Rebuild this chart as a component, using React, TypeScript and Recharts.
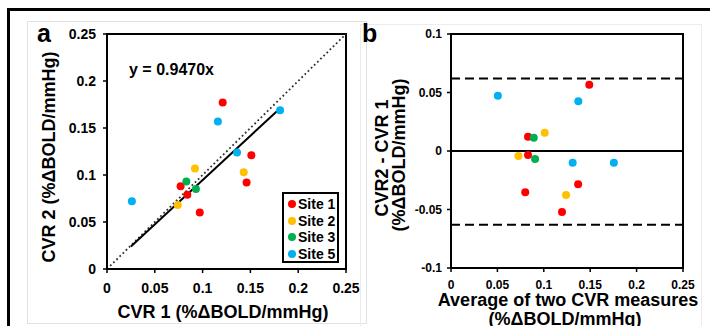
import React from 'react'
import {
  ScatterChart, Scatter, XAxis, YAxis, ReferenceLine, ReferenceArea, Legend,
} from 'recharts'

type Pt = { x: number; y: number }

const FONT = '"Liberation Sans", Arial, sans-serif'

const siteNames = ['Site 1', 'Site 2', 'Site 3', 'Site 5']
const siteColors = ['#ff0000', '#ffc000', '#00b050', '#00b0f0']

// panel a: CVR 1 vs CVR 2
const site1A: Pt[] = [
  { x: 0.121, y: 0.177 }, { x: 0.151, y: 0.121 }, { x: 0.146, y: 0.092 },
  { x: 0.077, y: 0.088 }, { x: 0.084, y: 0.079 }, { x: 0.097, y: 0.060 },
]
const site2A: Pt[] = [{ x: 0.092, y: 0.107 }, { x: 0.143, y: 0.103 }, { x: 0.074, y: 0.068 }]
const site3A: Pt[] = [{ x: 0.083, y: 0.093 }, { x: 0.093, y: 0.085 }]
const site5A: Pt[] = [
  { x: 0.181, y: 0.169 }, { x: 0.116, y: 0.157 }, { x: 0.136, y: 0.124 }, { x: 0.026, y: 0.072 },
]
const fitLine: Pt[] = [{ x: 0.025, y: 0.024 }, { x: 0.18, y: 0.17 }]
const identityLine: Pt[] = [{ x: 0, y: 0 }, { x: 0.25, y: 0.25 }]
const ticksA = [0, 0.05, 0.1, 0.15, 0.2, 0.25]

// panel b: Bland-Altman
const site1B: Pt[] = [
  { x: 0.149, y: 0.0566 }, { x: 0.083, y: 0.0121 }, { x: 0.083, y: -0.0034 },
  { x: 0.080, y: -0.0352 }, { x: 0.137, y: -0.0285 }, { x: 0.1196, y: -0.0521 },
]
const site2B: Pt[] = [{ x: 0.101, y: 0.0155 }, { x: 0.0727, y: -0.0042 }, { x: 0.124, y: -0.0375 }]
const site3B: Pt[] = [{ x: 0.0892, y: 0.0113 }, { x: 0.0906, y: -0.0068 }]
const site5B: Pt[] = [
  { x: 0.0505, y: 0.0473 }, { x: 0.1372, y: 0.0425 }, { x: 0.1311, y: -0.0101 }, { x: 0.1755, y: -0.0101 },
]
const limitsB = [0.062, -0.063]
const ticksBx = [0, 0.05, 0.1, 0.15, 0.2, 0.25]
const ticksBy = [-0.1, -0.05, 0, 0.05, 0.1]

const seriesA = [site1A, site2A, site3A, site5A]
const seriesB = [site1B, site2B, site3B, site5B]

const dot = (color: string) => (props: any) => (
  <circle cx={props.cx} cy={props.cy} r={4} fill={color} />
)

const LegendBox = (props: any) => (
  <div style={{ border: '2px solid #000', background: '#fff', padding: '2px 0 0 4px', width: 57, height: 71, boxSizing: 'border-box' }}>
    {(props.payload || []).map((e: any) => (
      <div key={e.value} style={{ display: 'flex', alignItems: 'center', height: 16.5, whiteSpace: 'nowrap', fontSize: 14, fontWeight: 700, fontFamily: FONT, color: '#000', lineHeight: '16px' }}>
        <span style={{ flex: 'none', width: 8, height: 8, borderRadius: 4, background: e.color, marginRight: 2 }} />
        {e.value}
      </div>
    ))}
  </div>
)

export default function App() {
  const tickA = { fill: '#000', fontSize: 14, fontWeight: 700, fontFamily: FONT }
  const tickB = { fill: '#000', fontSize: 12, fontWeight: 700, fontFamily: FONT }
  const axisLine = { stroke: '#000', strokeWidth: 2 }
  const tickLine = { stroke: '#000', strokeWidth: 1.5 }
  const lbl = { fontFamily: FONT, fontWeight: 700, fontSize: 18, fill: '#000' } as const

  return (
    <div style={{ position: 'absolute', left: 0, top: 0, width: 710, height: 326, background: '#fff', overflow: 'hidden' }}>
      <div style={{ position: 'absolute', left: 7, top: 8, width: 720, height: 340, borderTop: '3px solid #000', borderLeft: '3px solid #000' }} />
      <div style={{ position: 'absolute', left: 27, top: 21, width: 338, height: 301, border: '1px solid #e2e2e2' }} />
      <div style={{ position: 'absolute', left: 360, top: 24, width: 340, height: 320, border: '1px solid #ececec' }} />

      <div style={{ position: 'absolute', left: 0, top: 0 }}>
        <ScatterChart width={360} height={326} margin={{ top: 34, right: 14, bottom: 27, left: 47 }}>
          <XAxis type="number" dataKey="x" domain={[0, 0.25]} ticks={ticksA} height={30}
            tick={tickA} axisLine={axisLine} tickLine={tickLine} tickSize={4} tickMargin={10} />
          <YAxis type="number" dataKey="y" domain={[0, 0.25]} ticks={ticksA} width={60}
            tick={tickA} axisLine={axisLine} tickLine={tickLine} tickSize={4} tickMargin={7} />
          <ReferenceArea x1={0} x2={0.25} y1={0} y2={0.25} fill="#fff" fillOpacity={0} stroke="#000" strokeWidth={2} />
          <ReferenceLine segment={identityLine} stroke="#333" strokeWidth={1.8} strokeDasharray="1.8 2.6" />
          <Scatter data={fitLine} line={{ stroke: '#000', strokeWidth: 2 }} shape={() => <g />}
            legendType="none" isAnimationActive={false} />
          {seriesA.map((d, i) => (
            <Scatter key={i} name={siteNames[i]} data={d} fill={siteColors[i]} shape={dot(siteColors[i])} isAnimationActive={false} />
          ))}
          <Legend layout="vertical" align="center" verticalAlign="middle" content={LegendBox}
            wrapperStyle={{ left: 282, top: 192, width: 57, height: 71 }} />
        </ScatterChart>
      </div>

      <div style={{ position: 'absolute', left: 350, top: 0 }}>
        <ScatterChart width={360} height={326} margin={{ top: 34, right: 27, bottom: 28, left: 41 }}>
          <XAxis type="number" dataKey="x" domain={[0, 0.25]} ticks={ticksBx} height={30}
            tick={tickB} axisLine={axisLine} tickLine={tickLine} tickSize={4} tickMargin={8} />
          <YAxis type="number" dataKey="y" domain={[-0.1, 0.1]} ticks={ticksBy} width={60}
            tick={tickB} axisLine={axisLine} tickLine={tickLine} tickSize={4} tickMargin={5} />
          <ReferenceArea x1={0} x2={0.25} y1={-0.1} y2={0.1} fill="#fff" fillOpacity={0} stroke="#000" strokeWidth={2} />
          <ReferenceLine y={0} stroke="#000" strokeWidth={2} />
          {limitsB.map(v => (
            <ReferenceLine key={v} y={v} stroke="#000" strokeWidth={2} strokeDasharray="9 5" />
          ))}
          {seriesB.map((d, i) => (
            <Scatter key={i} name={siteNames[i]} data={d} fill={siteColors[i]} shape={dot(siteColors[i])} isAnimationActive={false} />
          ))}
        </ScatterChart>
      </div>

      <svg width={710} height={326} style={{ position: 'absolute', left: 0, top: 0, pointerEvents: 'none' }}>
        <text x={37} y={42} style={{ ...lbl, fontSize: 25 }}>a</text>
        <text x={362} y={42} style={{ ...lbl, fontSize: 25 }}>b</text>
        <text x={129} y={75} style={{ ...lbl, fontSize: 16 }}>y = 0.9470x</text>
        <text x={223} y={318} textAnchor="middle" style={lbl}>CVR 1 (%ΔBOLD/mmHg)</text>
        <text transform="translate(55,157) rotate(-90)" textAnchor="middle" style={lbl}>CVR 2 (%ΔBOLD/mmHg)</text>
        <text transform="translate(388,158) rotate(-90)" textAnchor="middle" style={lbl}>CVR2 - CVR 1</text>
        <text transform="translate(405,155) rotate(-90)" textAnchor="middle" style={lbl}>(%ΔBOLD/mmHg)</text>
        <text x={568} y={306} textAnchor="middle" style={lbl}>Average of two CVR measures</text>
        <text x={565} y={325} textAnchor="middle" style={lbl}>(%ΔBOLD/mmHg)</text>
      </svg>
    </div>
  )
}
